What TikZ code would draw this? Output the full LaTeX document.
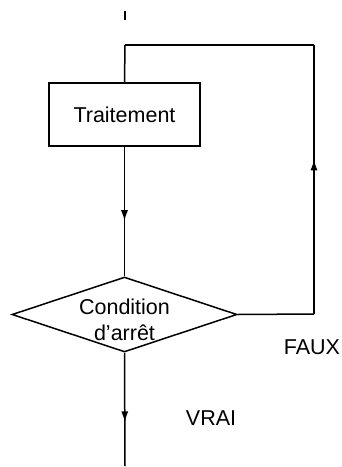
\documentclass[tikz,border=0pt]{standalone}
\usepackage{fontspec}
\setmainfont{Liberation Sans}
\usetikzlibrary{shapes.geometric,arrows.meta,decorations.markings}
\begin{document}
\begin{tikzpicture}[x=1pt,y=-1pt,
  line width=1.5pt,
  every node/.style={font=\fontsize{21.5}{26}\selectfont},
  stepbox/.style={draw,rectangle,minimum width=151pt,minimum height=63pt,inner sep=0pt},
  testbox/.style={draw,diamond,minimum width=225pt,minimum height=75pt,inner sep=0pt},
  midarrow/.style={postaction={decorate},decoration={markings,mark=at position #1 with {\arrow{Latex[length=11pt,width=7pt]}}}}]
  \useasboundingbox (0,0) rectangle (342,467);

  % entry mark
  \coordinate (in1) at (125,11);
  \coordinate (in2) at (125,20);
  \draw (in1) -- (in2);

  % blocks
  \node[stepbox] (trait) at (124.5,114.5) {Traitement};
  \node[testbox] (cond) at (124.5,314.5) {};
  \node[align=center] (condtext) at (124.5,320) {Condition\\d’arrêt};

  % loop points
  \coordinate (top) at (125,45);
  \coordinate (ne) at (314,45);
  \coordinate (se) at (314,314);
  \coordinate (out) at (125,466);

  % connectors
  \draw (top) -- (trait.north);
  \draw[midarrow=0.575] (trait.south) -- (cond.north);
  \draw (cond.east) -- (se);
  \draw[midarrow=0.575] (se) -- (ne);
  \draw (ne) -- (top);
  \draw[midarrow=0.615] (cond.south) -- (out);

  % branch labels
  \node (faux) at (312,347) {FAUX};
  \node (vrai) at (211,418) {VRAI};
\end{tikzpicture}
\end{document}
